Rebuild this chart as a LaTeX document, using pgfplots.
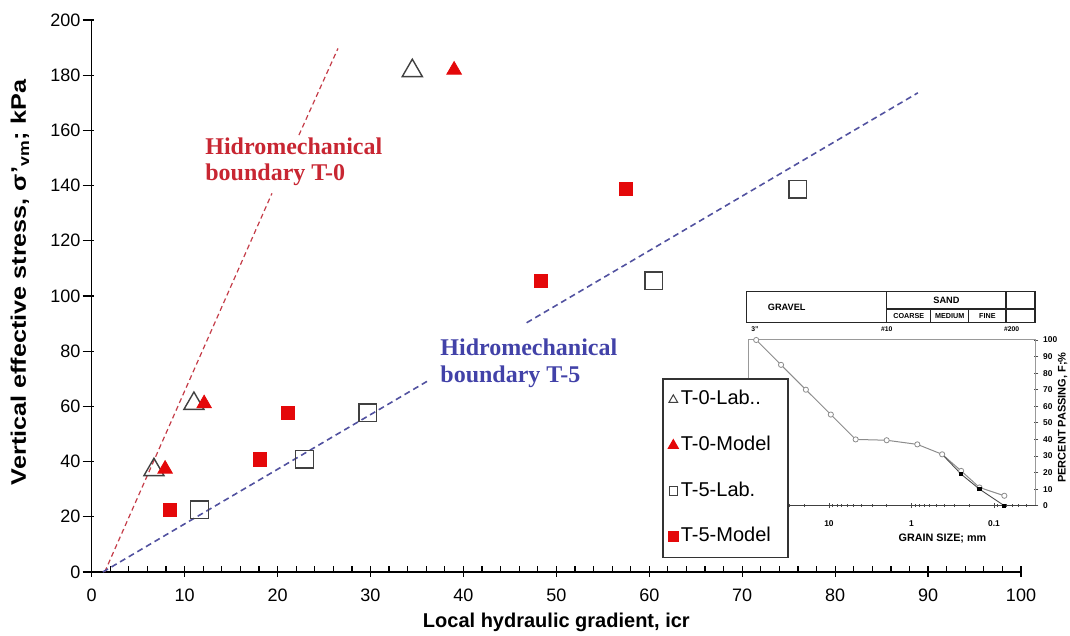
\documentclass[border=0pt]{standalone}
\usepackage{pgfplots}
\pgfplotsset{compat=1.18}
\usepackage{fontspec}
\setmainfont{Liberation Sans}
\newfontfamily\serifb{Liberation Serif}
\definecolor{mred}{RGB}{228,8,10}
\definecolor{lred}{RGB}{196,60,72}
\definecolor{lblue}{RGB}{82,82,160}
\definecolor{tred}{RGB}{200,38,50}
\definecolor{tblue}{RGB}{66,66,168}
\begin{document}
\begin{tikzpicture}
\useasboundingbox (0,0) rectangle (535pt,318pt);

% ---------------- inset: grain size curve
\begin{axis}[
  at={(374.15pt,65.15pt)}, anchor=south west,
  scale only axis, width=143.85pt, height=82.85pt,
  xmode=log, x dir=reverse, xmin=0.031, xmax=95,
  ymin=0, ymax=100, clip=false,
  axis line style={black!40, line width=0.5pt},
  xtick={0.1,1,10}, xticklabels={0.1,1,10},
  minor xtick={0.04,0.05,0.06,0.07,0.08,0.09,0.2,0.3,0.4,0.5,0.6,0.7,0.8,0.9,2,3,4,5,6,7,8,9,20,30,40,50,60,70,80,90},
  xtick pos=bottom, ytick pos=right, yticklabel pos=right,
  ytick={0,10,...,100},
  tick align=center, major tick length=2.4pt, minor tick length=1.4pt,
  tick style={black!70, line width=0.4pt},
  /pgf/number format/assume math mode=true,
  ticklabel style={font=\fontsize{4.2}{4.2}\selectfont\bfseries, inner sep=0pt},
  xticklabel style={anchor=center, yshift=-8pt},
  yticklabel style={anchor=west, xshift=2.2pt},
  xlabel={GRAIN SIZE; mm},
  xlabel style={font=\fontsize{5.4}{6}\selectfont\bfseries, at={(axis description cs:0.675,0)}, anchor=center, yshift=-16.3pt},
  ylabel={PERCENT PASSING, F;\%},
  ylabel style={font=\fontsize{5.5}{6}\selectfont\bfseries, at={(axis description cs:1,0.532)}, anchor=center, yshift=-13.3pt},
]
\draw[black!75, line width=0.5pt] (rel axis cs:0,0) -- (rel axis cs:1,0);
\addplot[black!45, line width=0.5pt, mark=*, mark size=1.3pt, mark options={fill=white, draw=black!45, line width=0.4pt}]
  coordinates {(76.2,100) (38.1,85) (19.05,70) (9.5,55) (4.75,40) (2.0,39.5) (0.85,37) (0.425,31) (0.25,21) (0.15,11) (0.075,6)};
\addplot[black!70, line width=0.45pt, mark=square*, mark size=0.8pt, mark options={fill=black, draw=black}, mark indices={2,3,4}]
  coordinates {(0.425,31) (0.25,19) (0.15,10) (0.075,0)};
\end{axis}

% ---------------- inset header table
\begin{scope}[line width=0.6pt, draw=black!85]
\draw (373.35pt,156.65pt) rectangle (517.5pt,172.15pt);
\draw (443.35pt,156.65pt) -- (443.35pt,172.15pt);
\draw (503pt,156.65pt) -- (503pt,172.15pt);
\draw (443.35pt,163.5pt) -- (517.5pt,163.5pt);
\draw (465.35pt,156.65pt) -- (465.35pt,163.5pt);
\draw (484.35pt,156.65pt) -- (484.35pt,163.5pt);
\end{scope}
\node[font=\fontsize{4.6}{5}\selectfont\bfseries, inner sep=0pt] at (393.35pt,164.5pt) {GRAVEL};
\node[font=\fontsize{4.6}{5}\selectfont\bfseries, inner sep=0pt] at (473.2pt,167.9pt) {SAND};
\node[font=\fontsize{3.6}{4}\selectfont\bfseries, inner sep=0pt] at (454.35pt,160pt) {COARSE};
\node[font=\fontsize{3.6}{4}\selectfont\bfseries, inner sep=0pt] at (474.85pt,160pt) {MEDIUM};
\node[font=\fontsize{3.6}{4}\selectfont\bfseries, inner sep=0pt] at (493.7pt,160pt) {FINE};
\node[font=\fontsize{3.4}{4}\selectfont\bfseries, inner sep=0pt] at (377.5pt,153.5pt) {3"};
\node[font=\fontsize{3.4}{4}\selectfont\bfseries, inner sep=0pt] at (443.35pt,153.5pt) {\#10};
\node[font=\fontsize{3.4}{4}\selectfont\bfseries, inner sep=0pt] at (505.85pt,153.5pt) {\#200};

% ---------------- main axis
\begin{axis}[
  at={(45.85pt,32pt)}, anchor=south west,
  scale only axis, width=464.65pt, height=276pt,
  xmin=0, xmax=100, ymin=0, ymax=200,
  axis lines=left, axis line style={-, black, line width=0.65pt},
  xtick={0,10,...,100}, ytick={0,20,...,200},
  minor x tick num=4,
  tick align=inside, major tick length=5.5pt, minor tick length=3pt,
  tick style={black, line width=0.6pt},
  every major x tick/.append style={yshift=-2.5pt},
  every major y tick/.append style={xshift=-4.5pt},
  /pgf/number format/assume math mode=true,
  ticklabel style={font=\fontsize{9}{9}\selectfont, inner sep=0pt},
  xticklabel style={anchor=center, yshift=-11.5pt},
  yticklabel style={anchor=east, xshift=-5.5pt},
  xlabel={Local hydraulic gradient, icr},
  xlabel style={font=\fontsize{10}{12}\selectfont\bfseries, at={(axis description cs:0.5,0)}, anchor=center, yshift=-25pt},
  ylabel={\scalebox{1.2}[1]{Vertical effective stress, σ'\textsubscript{vm}; kPa}},
  ylabel style={font=\fontsize{10.5}{12}\selectfont\bfseries, at={(axis description cs:0,0.5245)}, anchor=center, yshift=35.85pt},
  clip=false,
  legend cell align=left,
  legend style={at={(0.6137,0.3514)}, anchor=north west, draw=black!80, line width=0.8pt, fill=white,
    inner xsep=3pt, inner ysep=5pt, row sep=11.8pt, column sep=0.5pt,
    font=\fontsize{10}{12}\selectfont,
    nodes={inner sep=1pt, text height=7pt, text depth=2pt}},
  legend image code/.code={\draw[mark repeat=1,mark phase=1,#1] plot coordinates {(0pt,0pt)};},
]
% boundary lines
\addplot[forget plot, lred, line width=0.6pt, dash pattern=on 2.5pt off 1.7pt] coordinates {(1.4,0) (19.4,137.2)};
\addplot[forget plot, lred, line width=0.6pt, dash pattern=on 2.5pt off 1.7pt] coordinates {(22.3,158.3) (26.5,189.7)};
\addplot[forget plot, lblue, line width=0.8pt, dash pattern=on 3pt off 2pt] coordinates {(1.2,0) (36.1,69.1)};
\addplot[forget plot, lblue, line width=0.8pt, dash pattern=on 3pt off 2pt] coordinates {(46.8,90.3) (88.9,173.6)};
% data
\addplot[only marks, mark=triangle, mark size=5.8pt, mark options={draw=black!75, line width=0.7pt},
  legend image post style={mark size=2.5pt, every mark/.append style={line width=0.5pt}}]
  coordinates {(6.7,37) (11,61) (34.5,181.6)};
\addlegendentry{T-0-Lab..}
\addplot[only marks, mark=triangle*, mark size=4.2pt, mark options={draw=mred, fill=mred},
  legend image post style={mark size=2.6pt}]
  coordinates {(7.9,37.3) (12.1,61) (39,181.9)};
\addlegendentry{T-0-Model\hspace{4.5pt}\mbox{}}
\addplot[only marks, mark=square, mark size=4.4pt, mark options={draw=black!75, line width=0.7pt},
  legend image post style={mark size=2.1pt, every mark/.append style={line width=0.5pt}}]
  coordinates {(11.6,22.5) (22.9,40.8) (29.7,57.7) (60.5,105.5) (76,138.7)};
\addlegendentry{T-5-Lab.}
\addplot[only marks, mark=square*, mark size=3.3pt, mark options={draw=mred, fill=mred},
  legend image post style={mark size=2.2pt}]
  coordinates {(8.4,22.5) (18.1,40.8) (21.1,57.7) (48.3,105.5) (57.5,138.7)};
\addlegendentry{T-5-Model\hspace{4.5pt}\mbox{}}
% boundary labels
\node[anchor=north west, inner sep=0pt, align=left, text=tred, font=\serifb\fontsize{12}{13.3}\selectfont\bfseries] at (axis cs:12.19,157.6) {Hidromechanical\\boundary T-0};
\node[anchor=north west, inner sep=0pt, align=left, text=tblue, font=\serifb\fontsize{12}{13.3}\selectfont\bfseries] at (axis cs:37.48,84.6) {Hidromechanical\\boundary T-5};
\end{axis}
\end{tikzpicture}
\end{document}
